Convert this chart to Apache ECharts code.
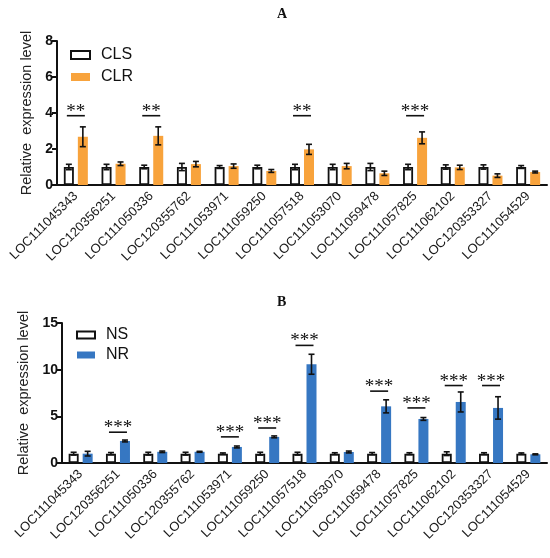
<!DOCTYPE html>
<html>
<head>
<meta charset="utf-8">
<script src="https://cdn.jsdelivr.net/npm/echarts@6/dist/echarts.min.js"></script>
<style>
html, body { margin: 0; padding: 0; background: #fff; }
#chart { width: 550px; height: 558px; }
</style>
</head>
<body>
<div id="chart"></div>
<script>
var genes = ['LOC111045343', 'LOC120356251', 'LOC111050336', 'LOC120355762', 'LOC111053971',
	'LOC111059250', 'LOC111057518', 'LOC111053070', 'LOC111059478', 'LOC111057825',
	'LOC111062102', 'LOC120353327', 'LOC111054529'];

// panel A
var clsMean = [1, 1, 1, 1, 1, 1, 1, 1, 1, 1, 1, 1, 1];
var clsErr = [0.15, 0.15, 0.1, 0.2, 0.08, 0.1, 0.15, 0.15, 0.2, 0.15, 0.12, 0.12, 0.08];
var clrMean = [2.68, 1.18, 2.73, 1.16, 1.05, 0.78, 1.98, 1.05, 0.65, 2.62, 0.98, 0.52, 0.72];
var clrErr = [0.55, 0.1, 0.5, 0.15, 0.12, 0.08, 0.28, 0.15, 0.12, 0.33, 0.12, 0.1, 0.05];
var sigA = [[0, 3.85, '**'], [2, 3.85, '**'], [6, 3.85, '**'], [9, 3.85, '***']];

// panel B
var nsMean = [1, 1, 1, 1, 1, 1, 1, 1, 1, 1, 1, 1, 1];
var nsErr = [0.15, 0.12, 0.15, 0.15, 0.08, 0.15, 0.15, 0.1, 0.12, 0.1, 0.2, 0.1, 0.08];
var nrMean = [1.0, 2.36, 1.2, 1.2, 1.72, 2.8, 10.58, 1.18, 6.07, 4.72, 6.54, 5.9, 0.93];
var nrErr = [0.25, 0.1, 0.08, 0.05, 0.1, 0.1, 1.07, 0.1, 0.7, 0.15, 1.07, 1.2, 0.05];
var sigB = [[1, 3.3, '***'], [4, 2.8, '***'], [5, 3.75, '***'], [6, 12.6, '***'],
	[8, 7.7, '***'], [9, 5.9, '***'], [10, 8.3, '***'], [11, 8.3, '***']];

var chart = echarts.init(document.getElementById('chart'));

function errData(mean, err) {
	return mean.map(function(m, i) { return [i, m, err[i]]; });
}

function errSeries(name, mean, err, idx, dx) {
	return {
		name: name + ' err',
		type: 'custom',
		xAxisIndex: idx,
		yAxisIndex: idx,
		z: 5,
		data: errData(mean, err),
		renderItem: function(params, api) {
			var i = api.value(0), m = api.value(1), e = api.value(2);
			var top = api.coord([i, m + e]);
			var bot = api.coord([i, m - e]);
			var x = top[0] + dx;
			var st = { stroke: '#111', lineWidth: 1.6 };
			return {
				type: 'group',
				children: [
					{ type: 'line', shape: { x1: x, y1: top[1], x2: x, y2: bot[1] }, style: st },
					{ type: 'line', shape: { x1: x - 3, y1: top[1], x2: x + 3, y2: top[1] }, style: st },
					{ type: 'line', shape: { x1: x - 3, y1: bot[1], x2: x + 3, y2: bot[1] }, style: st }
				]
			};
		}
	};
}

function sigSeries(sig, idx) {
	return {
		type: 'custom',
		xAxisIndex: idx,
		yAxisIndex: idx,
		z: 6,
		data: sig.map(function(s) { return [s[0], s[1]]; }),
		renderItem: function(params, api) {
			var p = api.coord([api.value(0), api.value(1)]);
			return {
				type: 'group',
				children: [
					{ type: 'line', shape: { x1: p[0] - 9, y1: p[1], x2: p[0] + 9, y2: p[1] },
						style: { stroke: '#111', lineWidth: 1.6 } },
					{ type: 'text', x: p[0], y: p[1] - 4,
						style: { text: sig[params.dataIndex][2], fill: '#111', align: 'center',
							verticalAlign: 'middle', font: '19px "Liberation Serif"' } }
				]
			};
		}
	};
}

function xAx(idx) {
	return {
		type: 'category',
		gridIndex: idx,
		data: genes,
		axisLine: { lineStyle: { color: '#111', width: 2 } },
		axisTick: { alignWithLabel: true, length: 6, lineStyle: { color: '#111', width: 2 } },
		axisLabel: { rotate: 45, interval: 0, margin: 9, color: '#1a1a1a', fontSize: 13,
			fontFamily: 'Liberation Sans' }
	};
}

function yAx(idx, max, step, gap) {
	return {
		type: 'value',
		gridIndex: idx,
		min: 0,
		max: max,
		interval: step,
		name: 'Relative  expression level',
		nameLocation: 'middle',
		nameGap: gap,
		nameTextStyle: { color: '#222', fontSize: 14.5, fontFamily: 'Liberation Sans' },
		splitLine: { show: false },
		axisLine: { show: true, lineStyle: { color: '#111', width: 2 } },
		axisTick: { show: true, length: 5, lineStyle: { color: '#111', width: 2 } },
		axisLabel: { color: '#111', fontSize: 14, fontWeight: 'bold', margin: 4,
			fontFamily: 'Liberation Sans' }
	};
}

function barSeries(name, data, idx, color, open) {
	return {
		name: name,
		type: 'bar',
		xAxisIndex: idx,
		yAxisIndex: idx,
		barWidth: 10,
		barGap: '40%',
		data: data,
		itemStyle: open ? { color: '#fff', borderColor: '#111', borderWidth: 1.8 } : { color: color }
	};
}

var titleStyle = { fontSize: 14, fontWeight: 'bold', fontFamily: 'Liberation Serif', color: '#111' };
var legendText = { fontSize: 16, color: '#111', fontFamily: 'Liberation Sans', padding: [0, 0, 0, 6] };

var option = {
	animation: false,
	title: [
		{ text: 'A', left: 272, top: 2, textStyle: titleStyle },
		{ text: 'B', left: 272, top: 290, textStyle: titleStyle }
	],
	legend: [
		{ data: ['CLS', 'CLR'], orient: 'vertical', left: 65, top: 42, icon: 'rect',
			itemWidth: 19, itemHeight: 8, itemGap: 6, textStyle: legendText },
		{ data: ['NS', 'NR'], orient: 'vertical', left: 71, top: 322, icon: 'rect',
			itemWidth: 18, itemHeight: 7, itemGap: 4, textStyle: legendText }
	],
	grid: [
		{ left: 57, right: 3, top: 41, height: 144 },
		{ left: 62, right: 3, top: 323, height: 140 }
	],
	xAxis: [xAx(0), xAx(1)],
	yAxis: [yAx(0, 8, 2, 22), yAx(1, 15, 5, 27)],
	series: [
		barSeries('CLS', clsMean, 0, '#fff', true),
		barSeries('CLR', clrMean, 0, '#F8A33C', false),
		errSeries('CLS', clsMean, clsErr, 0, -7),
		errSeries('CLR', clrMean, clrErr, 0, 7),
		sigSeries(sigA, 0),
		barSeries('NS', nsMean, 1, '#fff', true),
		barSeries('NR', nrMean, 1, '#3677C2', false),
		errSeries('NS', nsMean, nsErr, 1, -7),
		errSeries('NR', nrMean, nrErr, 1, 7),
		sigSeries(sigB, 1)
	]
};

chart.setOption(option);
</script>
</body>
</html>
